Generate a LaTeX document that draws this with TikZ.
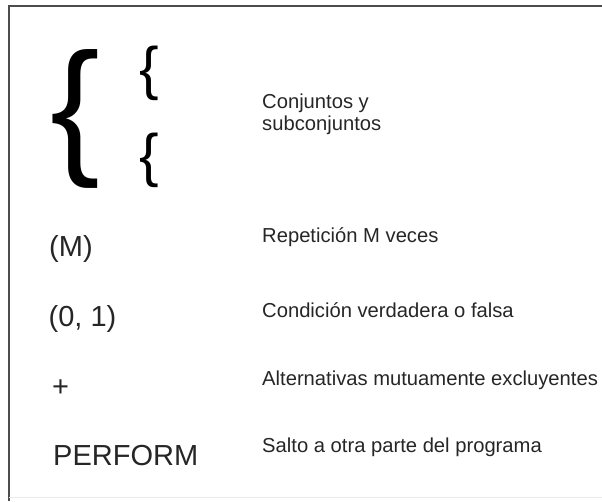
\documentclass[tikz,border=0pt]{standalone}
\usepackage{fontspec}
\setmainfont{Liberation Sans}
\begin{document}
\begin{tikzpicture}[x=1pt,y=-1pt,
  desc/.style={anchor=base west,inner sep=0pt,font=\fontsize{20.2}{22.5}\selectfont,text=black!85},
  sym/.style={anchor=base west,inner sep=0pt,font=\fontsize{29}{31}\selectfont,text=black!85},
  bigbrace/.style={anchor=base west,inner sep=0pt,font=\fontsize{149}{149}\selectfont},
  smallbrace/.style={anchor=base west,inner sep=0pt,font=\fontsize{58.6}{60}\selectfont},
  frameline/.style={draw=black!70,line width=2pt}]
\useasboundingbox (0,0) rectangle (602,501);
% frame
\coordinate (tl) at (8.5,6);
\coordinate (tr) at (602,6);
\coordinate (bl) at (8.5,501);
\draw[frameline] (bl) -- (tl) -- (tr);
\draw[black!8,line width=1pt] (8.5,497.5) -- (602,497.5);
% braces
\node[bigbrace] (bb) at (50.5,157) {\{};
\node[smallbrace] (sb1) at (139.5,88) {\{};
\node[smallbrace] (sb2) at (139.5,175) {\{};
\node[desc,anchor=north west,align=left] (conj) at (262,93.5) {Conjuntos y\\subconjuntos};
% rows
\node[sym] (m) at (49,256) {(M)};
\node[desc] (rep) at (262,242) {Repetición M veces};
\node[sym] (c01) at (48.5,326) {(0, 1)};
\node[desc] (cond) at (262,317) {Condición verdadera o falsa};
\node[sym] (plus) at (52,396) {+};
\node[desc] (alt) at (262,385) {Alternativas mutuamente excluyentes};
\node[sym] (perf) at (53,465) {PERFORM};
\node[desc] (salto) at (262,452) {Salto a otra parte del programa};
\end{tikzpicture}
\end{document}
